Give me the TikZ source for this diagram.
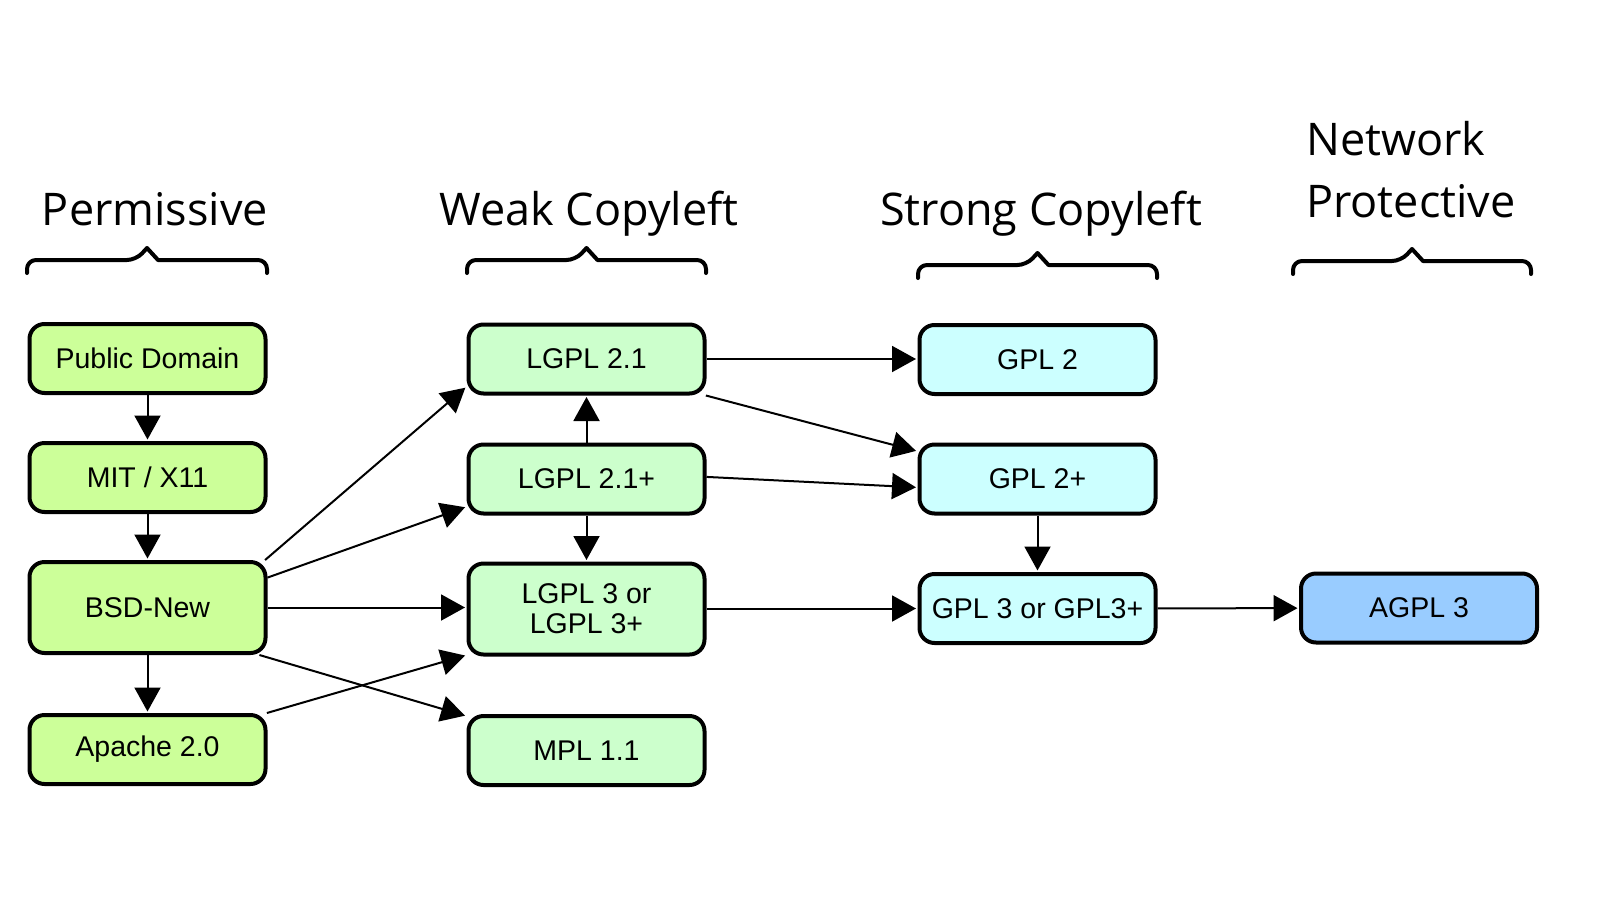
\documentclass[tikz,border=0pt]{standalone}
\usepackage{fontspec}
\setmainfont{Liberation Sans}
\newfontfamily\headfont{Open Sans}
\usetikzlibrary{arrows.meta}

\definecolor{permfill}{HTML}{CCFF99}
\definecolor{weakfill}{HTML}{CCFFCC}
\definecolor{strongfill}{HTML}{CCFFFF}
\definecolor{netfill}{HTML}{99CCFF}

% horizontal curly brace: left x, right x, line y
\newcommand\licbrace[3]{%
  \draw[bracestyle] (#1,#3+13) [rounded corners=9] -- (#1,#3) -- ({(#1+#2)/2-11},#3)
    [sharp corners] -- ({(#1+#2)/2},#3-12) -- ({(#1+#2)/2+11},#3)
    [rounded corners=9] -- (#2,#3) -- (#2,#3+13);}

\begin{document}
\begin{tikzpicture}[x=1pt,y=-1pt,
  lic/.style={draw=black, line width=4pt, rounded corners=15pt,
    minimum width=236pt, minimum height=69pt, inner sep=0pt, align=center,
    font=\fontsize{28.5}{30}\selectfont},
  tall/.style={minimum height=91pt},
  perm/.style={lic, fill=permfill},
  weak/.style={lic, fill=weakfill},
  strong/.style={lic, fill=strongfill},
  net/.style={lic, fill=netfill},
  head/.style={font=\headfont\fontsize{45}{62}\selectfont, inner sep=0pt},
  bracestyle/.style={line width=4pt, line cap=round, line join=round},
  link/.style={line width=2pt, -{Triangle[length=24pt,width=26pt]}, shorten >=1.5pt}]

\useasboundingbox (0,0) rectangle (1600,900);

% column headings
\node[head, anchor=base] (hperm) at (155,225) {Permissive};
\node[head, anchor=base] (hweak) at (589,225) {Weak Copyleft};
\node[head, anchor=base] (hstrong) at (1041,225) {Strong Copyleft};
\node[head, anchor=base west, align=left] (hnet) at (1306,217) {Network\\Protective};

% braces under the headings
\licbrace{27}{267}{260}
\licbrace{467}{706}{260}
\licbrace{918}{1157}{265}
\licbrace{1293}{1531}{261}

% permissive licences
\node[perm] (pd) at (147.5,358.5) {Public Domain};
\node[perm] (mit) at (147.5,477.5) {MIT / X11};
\node[perm, tall] (bsd) at (147.5,607.5) {BSD-New};
\node[perm] (apache) at (147.5,749.5) {Apache 2.0};

% weak copyleft licences
\node[weak] (lgpl21) at (586.5,359) {LGPL 2.1};
\node[weak] (lgpl21p) at (586.5,479) {LGPL 2.1+};
\node[weak, tall] (lgpl3) at (586.5,609) {LGPL 3 or\\LGPL 3+};
\node[weak] (mpl) at (586.5,750.5) {MPL 1.1};

% strong copyleft licences
\node[strong] (gpl2) at (1037.5,359.5) {GPL 2};
\node[strong] (gpl2p) at (1037.5,479) {GPL 2+};
\node[strong] (gpl3) at (1037.5,608.5) {GPL 3 or GPL3+};

% network protective licence
\node[net] (agpl) at (1419,608) {AGPL 3};

% compatibility arrows
\draw[link] (pd) -- (mit);
\draw[link] (mit) -- (bsd);
\draw[link] (bsd) -- (apache);
\draw[link] (bsd.22) -- (lgpl21.193);
\draw[link] (bsd.14) -- (lgpl21p.193);
\draw[link] (bsd.east) -- (bsd.east -| lgpl3.west);
\draw[link] (bsd.337) -- (mpl.164);
\draw[link] (apache.17) -- (lgpl3.201);
\draw[link] (lgpl21p) -- (lgpl21);
\draw[link] (lgpl21p) -- (lgpl3);
\draw[link] (lgpl21.east) -- (lgpl21.east -| gpl2.west);
\draw[link] (lgpl21.343) -- (gpl2p.167);
\draw[link] (lgpl21p.1) -- (gpl2p.184);
\draw[link] (gpl2p) -- (gpl3);
\draw[link] (lgpl3.east |- gpl3.west) -- (gpl3.west);
\draw[link] (gpl3) -- (agpl);
\end{tikzpicture}
\end{document}
